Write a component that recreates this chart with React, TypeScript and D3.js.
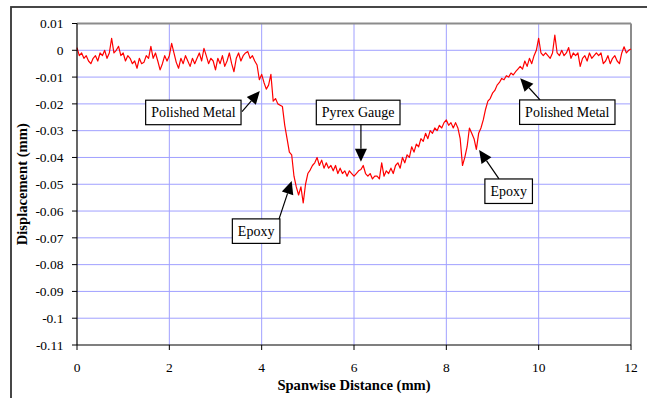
import React from "react";
import * as d3 from "d3";

// Spanwise sampling interval (mm)
const distanceStep = 0.05;

// Measured displacement (mm), one value per sampling interval from 0 to 12 mm
const displacement: number[] = [
  0.001, -0.002, -0.001, -0.003, -0.002, -0.004, -0.005, -0.003, -0.002, -0.004, -0.001,
  -0.002, 0.0, -0.003, -0.001, 0.0045, -0.001, 0.0, 0.0015, -0.002, -0.001,
  -0.004, -0.002, -0.003, -0.005, -0.004, -0.0067, -0.003, -0.005, -0.0045, -0.002,
  -0.003, 0.0015, -0.003, -0.001, -0.004, -0.0073, -0.005, -0.002, -0.004, -0.002,
  0.0026, -0.001, -0.0045, -0.0067, -0.003, -0.005, -0.002, -0.004, -0.006, -0.003,
  -0.005, -0.003, -0.001, -0.004, 0.0007, -0.002, -0.005, -0.003, -0.004, -0.0073,
  -0.003, -0.005, -0.002, -0.006, -0.004, -0.001, -0.005, -0.008, -0.003, -0.001,
  -0.004, -0.002, -0.001, -0.0005, -0.003, -0.002, -0.004, -0.0055, -0.011, -0.009,
  -0.012, -0.0145, -0.013, -0.009, -0.019, -0.018, -0.02, -0.0205, -0.021, -0.028,
  -0.033, -0.038, -0.039, -0.047, -0.051, -0.054, -0.051, -0.057, -0.05, -0.046,
  -0.0447, -0.043, -0.042, -0.04, -0.043, -0.041, -0.044, -0.042, -0.044, -0.043,
  -0.045, -0.043, -0.046, -0.044, -0.046, -0.045, -0.047, -0.045, -0.046, -0.047,
  -0.046, -0.045, -0.0445, -0.043, -0.046, -0.047, -0.046, -0.048, -0.047, -0.047,
  -0.048, -0.042, -0.047, -0.045, -0.046, -0.044, -0.046, -0.043, -0.042, -0.044,
  -0.04, -0.042, -0.039, -0.04, -0.036, -0.038, -0.035, -0.036, -0.033, -0.034,
  -0.031, -0.033, -0.03, -0.031, -0.029, -0.03, -0.028, -0.029, -0.027, -0.026,
  -0.028, -0.027, -0.029, -0.027, -0.029, -0.033, -0.043, -0.04, -0.036, -0.029,
  -0.031, -0.033, -0.037, -0.031, -0.029, -0.026, -0.022, -0.019, -0.018, -0.016,
  -0.015, -0.013, -0.012, -0.0105, -0.011, -0.0095, -0.01, -0.0085, -0.0092, -0.008,
  -0.007, -0.006, -0.007, -0.004, -0.006, -0.003, -0.005, -0.002, 0.0, 0.0045,
  -0.001, -0.002, -0.001, -0.002, -0.003, -0.001, 0.0057, -0.001, -0.002, 0.0,
  -0.002, -0.001, 0.001, -0.003, -0.001, -0.002, -0.001, -0.006, -0.003, -0.002,
  -0.004, -0.001, -0.003, -0.002, -0.001, -0.002, -0.001, -0.005, -0.004, -0.002,
  -0.005, -0.003, -0.002, -0.004, -0.005, -0.001, 0.0013, -0.001, 0.0, 0.0005,
];

// Axis ticks and their labels
const xTicks = [0, 2, 4, 6, 8, 10, 12];
const xTickLabels = ["0", "2", "4", "6", "8", "10", "12"];
const yTicks = [0.01, 0, -0.01, -0.02, -0.03, -0.04, -0.05, -0.06, -0.07, -0.08, -0.09, -0.1, -0.11];
const yTickLabels = ["0.01", "0", "-0.01", "-0.02", "-0.03", "-0.04", "-0.05", "-0.06", "-0.07", "-0.08", "-0.09", "-0.1", "-0.11"];

// Callouts: label, box centre, arrow tail and arrow tip, all in data units (mm)
const calloutLabels = ["Polished Metal", "Pyrex Gauge", "Epoxy", "Epoxy", "Polished Metal"];
const calloutBox: [number, number][] = [
  [2.52, -0.0232],
  [6.09, -0.0232],
  [3.88, -0.0675],
  [9.35, -0.0526],
  [10.62, -0.0231],
];
const calloutTail: [number, number][] = [
  [3.574, -0.0229],
  [6.15, -0.027],
  [4.375, -0.063],
  [9.14, -0.048],
  [10.03, -0.0185],
];
const calloutTip: [number, number][] = [
  [3.96, -0.0152],
  [6.15, -0.0416],
  [4.65, -0.0488],
  [8.71, -0.0372],
  [9.6, -0.0104],
];

const W = 647;
const H = 398;
const plot = { left: 77, right: 631, top: 23.5, bottom: 345 };
const serif = "'Liberation Serif', 'Times New Roman', serif";

function textWidth(text: string, font: string): number {
  const ctx = document.createElement("canvas").getContext("2d");
  if (!ctx) return text.length * 7;
  ctx.font = font;
  return ctx.measureText(text).width;
}

export default function App() {
  const x = d3.scaleLinear().domain([0, 12]).range([plot.left, plot.right]);
  const y = d3.scaleLinear().domain([-0.11, 0.01]).range([plot.bottom, plot.top]);

  const points: [number, number][] = displacement.map((v, i) => [i * distanceStep, v]);
  const line = d3
    .line<[number, number]>()
    .x((p) => x(p[0]))
    .y((p) => y(p[1]));

  const gridColor = "#a0a0ff";
  const frameGray = "#8c8c8c";

  const arrow = (tail: [number, number], tip: [number, number], key: number) => {
    const x0 = x(tail[0]);
    const y0 = y(tail[1]);
    const x1 = x(tip[0]);
    const y1 = y(tip[1]);
    const len = Math.hypot(x1 - x0, y1 - y0);
    const ux = (x1 - x0) / len;
    const uy = (y1 - y0) / len;
    const headLen = 13;
    const headHalf = 6;
    const bx = x1 - ux * headLen;
    const by = y1 - uy * headLen;
    const pts = [
      [x1, y1],
      [bx - uy * headHalf, by + ux * headHalf],
      [bx + uy * headHalf, by - ux * headHalf],
    ]
      .map((p) => p.join(","))
      .join(" ");
    return (
      <g key={`arrow-${key}`}>
        <line x1={x0} y1={y0} x2={bx} y2={by} stroke="#000" strokeWidth={1.2} />
        <polygon points={pts} fill="#000" />
      </g>
    );
  };

  return (
    <svg
      width={W}
      height={H}
      style={{ position: "absolute", left: 0, top: 0, background: "#fff" }}
      fontFamily={serif}
    >
      {/* chart frame */}
      <rect x={11} y={7} width={700} height={500} fill="#fff" stroke="#333" strokeWidth={1.8} />

      {/* plot area */}
      <rect x={plot.left} y={plot.top} width={plot.right - plot.left} height={plot.bottom - plot.top} fill="#fff" />

      {/* grid */}
      {yTicks
        .filter((t) => t < 0.0099 && t > -0.1099)
        .map((t) => (
          <line key={`gy${t}`} x1={plot.left} x2={plot.right} y1={y(t)} y2={y(t)} stroke={gridColor} strokeWidth={1} />
        ))}
      {xTicks
        .filter((t) => t > 0 && t < 12)
        .map((t) => (
          <line key={`gx${t}`} x1={x(t)} x2={x(t)} y1={plot.top} y2={plot.bottom} stroke={gridColor} strokeWidth={1} />
        ))}

      {/* plot area top/right border */}
      <line x1={plot.left} x2={plot.right} y1={plot.top} y2={plot.top} stroke={frameGray} strokeWidth={2} />
      <line x1={plot.right} x2={plot.right} y1={plot.top} y2={plot.bottom} stroke={frameGray} strokeWidth={2} />

      {/* data */}
      <path d={line(points) ?? ""} fill="none" stroke="#ff0000" strokeWidth={1.2} strokeLinejoin="round" />

      {/* axes */}
      <line x1={plot.left} x2={plot.left} y1={plot.top} y2={plot.bottom} stroke="#000" strokeWidth={1.2} />
      <line x1={plot.left} x2={plot.right} y1={plot.bottom} y2={plot.bottom} stroke="#000" strokeWidth={1.2} />
      {yTicks.map((t, i) => (
        <g key={`yt${i}`}>
          <line x1={plot.left - 5} x2={plot.left} y1={y(t)} y2={y(t)} stroke="#000" strokeWidth={1} />
          <text x={plot.left - 13.5} y={y(t)} dy="0.35em" textAnchor="end" fontSize={13.5} fill="#000">
            {yTickLabels[i]}
          </text>
        </g>
      ))}
      {xTicks.map((t, i) => (
        <g key={`xt${i}`}>
          <line x1={x(t)} x2={x(t)} y1={plot.bottom} y2={plot.bottom + 5} stroke="#000" strokeWidth={1} />
          <text x={x(t)} y={371.5} textAnchor="middle" fontSize={13.5} fill="#000">
            {xTickLabels[i]}
          </text>
        </g>
      ))}

      {/* axis titles */}
      <text x={(plot.left + plot.right) / 2} y={390} textAnchor="middle" fontSize={14.6} fontWeight="bold" fill="#000">
        Spanwise Distance (mm)
      </text>
      <text
        transform={`translate(26.5, ${(plot.top + plot.bottom) / 2}) rotate(-90)`}
        textAnchor="middle"
        fontSize={14.6}
        fontWeight="bold"
        fill="#000"
      >
        Displacement (mm)
      </text>

      {/* callouts */}
      {calloutLabels.map((label, i) => arrow(calloutTail[i], calloutTip[i], i))}
      {calloutLabels.map((label, i) => {
        const cx = x(calloutBox[i][0]);
        const cy = y(calloutBox[i][1]);
        const tw = textWidth(label, `14px ${serif}`);
        const bw = tw + 11;
        const bh = 24.5;
        return (
          <g key={`box${i}`}>
            <rect x={cx - bw / 2} y={cy - bh / 2} width={bw} height={bh} fill="#fff" stroke="#000" strokeWidth={1.2} />
            <text x={cx} y={cy} dy="0.36em" textAnchor="middle" fontSize={14} fill="#000">
              {label}
            </text>
          </g>
        );
      })}
    </svg>
  );
}
